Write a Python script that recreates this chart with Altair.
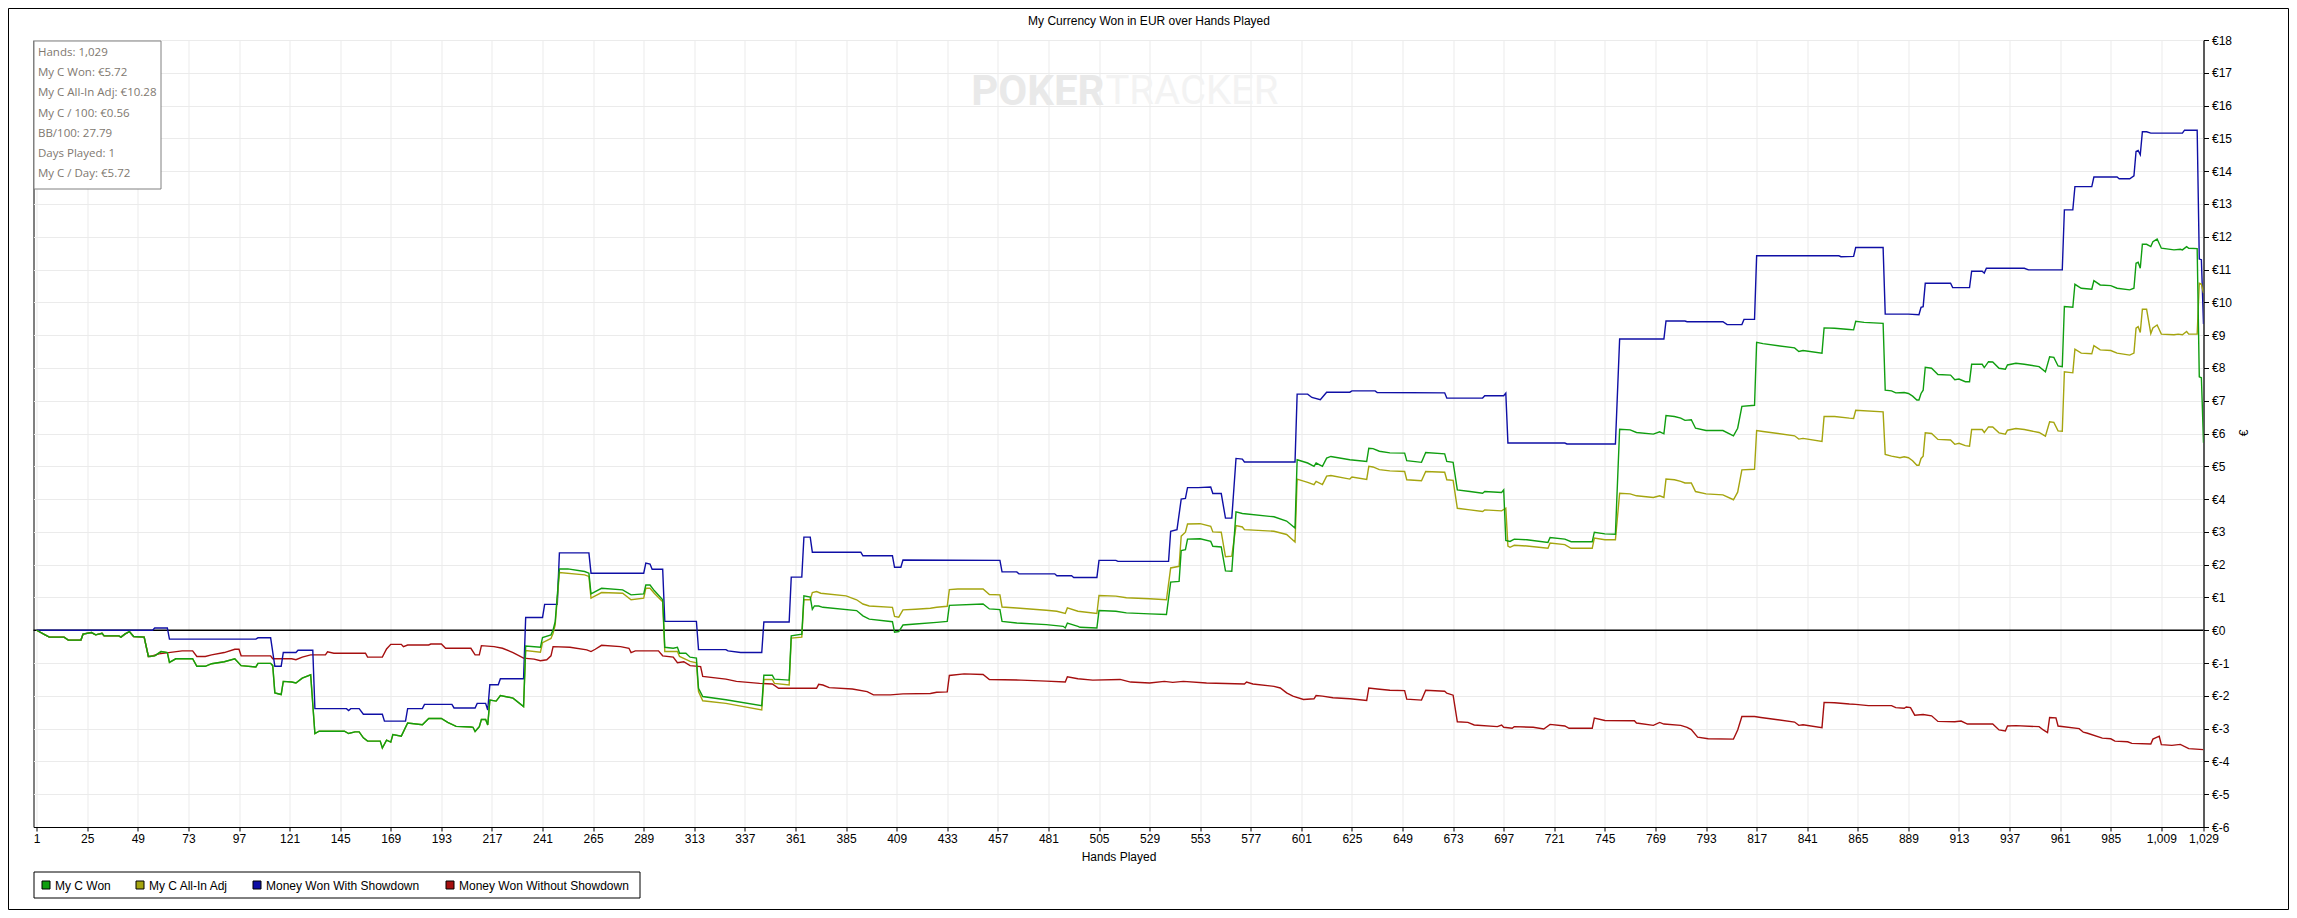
import altair as alt
import pandas as pd

SERIES = ["My C Won", "My C All-In Adj", "Money Won With Showdown", "Money Won Without Showdown"]
COLORS = ["#109e10", "#a5a50f", "#0f0fa5", "#a50f0f"]

TITLE = "My Currency Won in EUR over Hands Played"
X_TITLE = "Hands Played"
Y_TITLE = "€"
STATS = ["Hands: 1,029", "My C Won: €5.72", "My C All-In Adj: €10.28", "My C / 100: €0.56",
         "BB/100: 27.79", "Days Played: 1", "My C / Day: €5.72"]
X_TICKS = [1, 25, 49, 73, 97, 121, 145, 169, 193, 217, 241, 265, 289, 313, 337, 361, 385, 409,
           433, 457, 481, 505, 529, 553, 577, 601, 625, 649, 673, 697, 721, 745, 769, 793, 817,
           841, 865, 889, 913, 937, 961, 985, 1009, 1029]
Y_TICKS = list(range(-6, 19))

# hands 1-52: all three of My C Won / All-In Adj / Without Showdown coincide
common_a = [(1, 0), (5, -0.14), (7, -0.21), (14, -0.21), (16, -0.30), (22, -0.30), (23, -0.12),
            (27, -0.07), (29, -0.14), (32, -0.09), (33, -0.17), (40, -0.17), (41, -0.21),
            (43, -0.11), (45, -0.04), (47, -0.19), (52, -0.21)]

# hands 54-232: My C Won and All-In Adj coincide
common_b = [(54, -0.80), (57, -0.78), (60, -0.65), (63, -0.68), (64, -0.98), (67, -0.87),
            (75, -0.87), (77, -1.10), (81, -1.10), (84, -1.02), (90, -0.96), (95, -0.87),
            (98, -1.08), (105, -1.12), (106, -1.01), (112, -1.01), (113, -1.08), (114, -1.91),
            (117, -1.96), (118, -1.56), (122, -1.58), (124, -1.61), (127, -1.46), (131, -1.36),
            (133, -3.15), (135, -3.08), (147, -3.08), (149, -3.15), (152, -3.10), (154, -3.10),
            (156, -3.28), (158, -3.38), (164, -3.38), (165, -3.59), (167, -3.35), (169, -3.41),
            (170, -3.18), (174, -3.23), (177, -2.83), (184, -2.88), (187, -2.69), (193, -2.69),
            (196, -2.81), (200, -2.93), (207, -2.95), (208, -2.96), (209, -3.09), (211, -2.94),
            (212, -2.72), (214, -2.72), (215, -2.89), (216, -2.13), (219, -2.16), (221, -1.99),
            (227, -2.07), (232, -2.33)]

green_rest = [(233, -0.48), (240, -0.52), (241, -0.22), (245, -0.14), (246, 0.01), (247, 0.26),
              (249, 1.87), (253, 1.87), (261, 1.79), (263, 1.74), (264, 1.11), (266, 1.18),
              (269, 1.28), (279, 1.23), (283, 1.08), (289, 1.11), (290, 1.38), (292, 1.38),
              (294, 1.21), (298, 0.93), (299, -0.52), (303, -0.55), (305, -0.52), (306, -0.70),
              (309, -0.70), (311, -0.82), (314, -0.85), (315, -1.77), (317, -2.02), (328, -2.12),
              (345, -2.30), (346, -1.37), (350, -1.37), (351, -1.49), (358, -1.52), (359, -0.17),
              (364, -0.12), (365, 1.05), (368, 1.01), (369, 0.64), (370, 0.74), (372, 0.74),
              (374, 0.70), (390, 0.60), (393, 0.44), (396, 0.34), (407, 0.26), (408, -0.06),
              (410, -0.04), (412, 0.16), (418, 0.19), (428, 0.24), (433, 0.27), (434, 0.76),
              (450, 0.80), (453, 0.65), (458, 0.63), (459, 0.27), (466, 0.22), (480, 0.17),
              (488, 0.12), (489, 0.07), (490, 0.22), (495, 0.12), (496, 0.09), (504, 0.07),
              (505, 0.60), (513, 0.58), (518, 0.53), (529, 0.50), (537, 0.48), (539, 1.47),
              (543, 1.49), (544, 2.43), (546, 2.46), (547, 2.78), (553, 2.79), (558, 2.71),
              (559, 2.56), (563, 2.54), (565, 1.81), (568, 1.80), (570, 3.61), (573, 3.56),
              (588, 3.46), (594, 3.33), (598, 3.12), (599, 5.20), (604, 5.10), (607, 5.00),
              (608, 5.10), (611, 5.00), (613, 5.25), (615, 5.30), (624, 5.20), (632, 5.15),
              (633, 5.55), (635, 5.54), (638, 5.46), (643, 5.41), (650, 5.40), (651, 5.17),
              (658, 5.12), (660, 5.42), (669, 5.38), (670, 5.15), (673, 5.12), (675, 4.28),
              (681, 4.23), (687, 4.18), (688, 4.23), (696, 4.20), (697, 4.28), (698, 2.74),
              (700, 2.71), (702, 2.78), (708, 2.76), (718, 2.68), (719, 2.83), (726, 2.78),
              (729, 2.70), (739, 2.70), (740, 2.99), (745, 2.94), (750, 2.93), (752, 6.13),
              (757, 6.11), (760, 6.03), (768, 5.98), (771, 6.05), (773, 5.99), (774, 6.55),
              (778, 6.52), (781, 6.47), (783, 6.40), (786, 6.42), (788, 6.16), (793, 6.09),
              (801, 6.09), (806, 5.93), (808, 6.16), (810, 6.83), (816, 6.86), (817, 8.78),
              (820, 8.74), (835, 8.61), (837, 8.50), (839, 8.53), (848, 8.45), (849, 9.22),
              (854, 9.21), (861, 9.17), (863, 9.16), (864, 9.42), (868, 9.39), (877, 9.36),
              (878, 7.32), (881, 7.30), (883, 7.24), (887, 7.25), (889, 7.22), (891, 7.14),
              (893, 7.02), (894, 7.02), (895, 7.22), (896, 7.32), (897, 8.02), (900, 7.99),
              (903, 7.80), (909, 7.78), (911, 7.64), (913, 7.66), (916, 7.58), (918, 7.58),
              (919, 8.11), (924, 8.11), (925, 8.01), (927, 8.19), (929, 8.18), (932, 7.99),
              (935, 7.96), (936, 8.09), (940, 8.14), (944, 8.11), (951, 8.04), (954, 7.88),
              (956, 8.34), (958, 8.32), (960, 8.06), (962, 8.04), (963, 9.87), (967, 9.85),
              (968, 10.55), (971, 10.43), (976, 10.40), (977, 10.66), (980, 10.53), (985, 10.51),
              (988, 10.43), (994, 10.38), (996, 10.43), (997, 11.19), (998, 11.22), (999, 11.04),
              (1000, 11.77), (1002, 11.77), (1004, 11.70), (1005, 11.85), (1007, 11.93),
              (1009, 11.65), (1015, 11.60), (1018, 11.62), (1019, 11.60), (1021, 11.70),
              (1022, 11.65), (1026, 11.64), (1027, 7.73), (1028, 7.70), (1029, 5.72)]

yellow_rest = [(233, -0.62), (240, -0.67), (241, -0.38), (245, -0.25), (246, -0.09), (247, 0.16),
               (249, 1.76), (261, 1.69), (263, 1.64), (264, 0.98), (266, 1.05), (269, 1.15),
               (279, 1.13), (283, 0.93), (289, 0.98), (290, 1.28), (292, 1.28), (294, 1.13),
               (298, 0.87), (299, -0.65), (305, -0.65), (306, -0.80), (311, -0.95), (314, -0.99),
               (315, -1.87), (317, -2.15), (328, -2.23), (345, -2.43), (346, -1.50), (350, -1.50),
               (351, -1.62), (358, -1.67), (359, -0.24), (364, -0.21), (365, 0.93), (368, 0.93),
               (369, 1.15), (371, 1.18), (373, 1.13), (385, 1.05), (390, 0.93), (393, 0.80),
               (396, 0.74), (407, 0.70), (408, 0.42), (410, 0.40), (412, 0.62), (418, 0.64),
               (425, 0.67), (428, 0.70), (433, 0.73), (434, 1.24), (438, 1.26), (450, 1.26),
               (453, 1.09), (458, 1.08), (459, 0.71), (466, 0.68), (480, 0.61), (485, 0.58),
               (489, 0.51), (490, 0.68), (495, 0.58), (504, 0.51), (505, 1.06), (513, 1.04),
               (518, 0.99), (529, 0.96), (537, 0.93), (539, 1.90), (543, 1.95), (544, 2.87),
               (546, 2.99), (547, 3.24), (553, 3.25), (558, 3.17), (559, 3.00), (563, 2.99),
               (565, 2.24), (568, 2.26), (570, 3.19), (573, 3.15), (574, 3.07), (588, 3.02),
               (594, 2.92), (598, 2.69), (599, 4.61), (604, 4.51), (607, 4.44), (608, 4.54),
               (611, 4.44), (613, 4.70), (615, 4.72), (624, 4.61), (625, 4.67), (632, 4.60),
               (633, 5.00), (635, 4.98), (638, 4.90), (643, 4.86), (650, 4.84), (651, 4.59),
               (658, 4.56), (660, 4.84), (669, 4.82), (670, 4.59), (673, 4.57), (675, 3.72),
               (681, 3.67), (687, 3.62), (688, 3.67), (696, 3.64), (698, 3.72), (699, 2.57),
               (700, 2.53), (702, 2.59), (708, 2.57), (718, 2.50), (719, 2.66), (726, 2.61),
               (729, 2.50), (739, 2.50), (740, 2.81), (745, 2.76), (750, 2.76), (752, 4.18),
               (757, 4.16), (760, 4.10), (768, 4.05), (771, 4.10), (773, 4.05), (774, 4.61),
               (778, 4.59), (781, 4.54), (783, 4.49), (786, 4.49), (788, 4.23), (793, 4.16),
               (801, 4.13), (806, 3.98), (808, 4.21), (810, 4.89), (816, 4.91), (817, 6.09),
               (820, 6.06), (835, 5.93), (837, 5.83), (839, 5.85), (848, 5.76), (849, 6.52),
               (854, 6.52), (861, 6.47), (863, 6.46), (864, 6.71), (877, 6.66), (878, 5.36),
               (881, 5.31), (885, 5.26), (887, 5.29), (889, 5.26), (891, 5.17), (893, 5.03),
               (894, 5.03), (895, 5.24), (896, 5.31), (897, 6.02), (900, 6.00), (903, 5.82),
               (909, 5.80), (911, 5.67), (913, 5.70), (916, 5.63), (918, 5.61), (919, 6.12),
               (924, 6.12), (925, 6.03), (927, 6.20), (929, 6.20), (932, 6.02), (935, 5.98),
               (936, 6.10), (940, 6.15), (944, 6.12), (951, 6.03), (954, 5.92), (956, 6.36),
               (958, 6.34), (960, 6.08), (962, 6.07), (963, 7.88), (967, 7.85), (968, 8.57),
               (971, 8.45), (976, 8.43), (977, 8.68), (980, 8.55), (985, 8.53), (988, 8.45),
               (994, 8.39), (996, 8.45), (997, 9.21), (998, 9.26), (999, 9.08), (1000, 9.79),
               (1002, 9.79), (1004, 9.05), (1005, 9.22), (1007, 9.31), (1009, 9.03), (1015, 9.01),
               (1017, 9.03), (1019, 9.01), (1021, 9.11), (1022, 9.03), (1026, 9.03),
               (1027, 10.58), (1028, 10.56), (1029, 10.28)]

blue_pts = [(1, 0), (56, 0), (57, 0.07), (63, 0.07), (64, -0.27), (105, -0.27), (106, -0.23),
            (112, -0.23), (114, -1.10), (117, -1.10), (118, -0.68), (124, -0.68), (125, -0.61),
            (132, -0.61), (133, -2.39), (148, -2.39), (149, -2.45), (150, -2.39), (154, -2.39),
            (156, -2.56), (165, -2.56), (166, -2.77), (176, -2.77), (177, -2.39), (184, -2.39),
            (185, -2.26), (198, -2.26), (199, -2.37), (209, -2.37), (210, -2.23), (214, -2.23),
            (215, -2.43), (216, -1.66), (220, -1.66), (221, -1.48), (232, -1.48), (233, 0.39),
            (241, 0.39), (242, 0.79), (248, 0.79), (249, 2.36), (263, 2.36), (264, 1.74),
            (289, 1.74), (290, 2.05), (292, 2.02), (293, 1.86), (298, 1.86), (299, 0.27),
            (314, 0.27), (315, -0.59), (328, -0.59), (329, -0.63), (335, -0.68), (345, -0.68),
            (346, 0.25), (358, 0.25), (359, 1.62), (364, 1.62), (365, 2.84), (368, 2.84),
            (369, 2.38), (392, 2.38), (393, 2.27), (407, 2.27), (408, 1.92), (411, 1.92),
            (412, 2.14), (458, 2.13), (459, 1.78), (466, 1.78), (467, 1.72), (484, 1.72),
            (485, 1.66), (492, 1.66), (493, 1.61), (504, 1.61), (505, 2.13), (513, 2.13),
            (514, 2.10), (538, 2.10), (539, 3.02), (542, 3.07), (544, 4.00), (546, 4.02),
            (547, 4.35), (552, 4.35), (558, 4.37), (559, 4.17), (563, 4.17), (565, 3.42),
            (568, 3.42), (570, 5.24), (573, 5.22), (574, 5.13), (598, 5.13), (599, 7.20),
            (604, 7.20), (606, 7.10), (610, 7.03), (613, 7.26), (624, 7.26), (625, 7.30),
            (636, 7.30), (637, 7.25), (669, 7.24), (670, 7.08), (687, 7.08), (688, 7.15),
            (697, 7.15), (698, 7.23), (699, 5.71), (726, 5.71), (727, 5.68), (750, 5.68),
            (752, 8.88), (773, 8.88), (774, 9.43), (783, 9.43), (784, 9.41), (801, 9.41),
            (803, 9.32), (810, 9.32), (811, 9.48), (816, 9.48), (817, 11.42), (856, 11.42),
            (857, 11.39), (863, 11.40), (864, 11.67), (877, 11.67), (878, 9.64), (889, 9.64),
            (894, 9.62), (895, 9.85), (896, 9.87), (897, 10.58), (909, 10.58), (910, 10.45),
            (918, 10.45), (919, 10.95), (924, 10.95), (925, 10.89), (926, 11.04), (944, 11.04),
            (946, 10.99), (962, 10.99), (963, 12.82), (967, 12.82), (968, 13.53), (976, 13.53),
            (977, 13.82), (988, 13.82), (989, 13.77), (994, 13.77), (996, 13.86), (997, 14.60),
            (998, 14.63), (999, 14.50), (1000, 15.20), (1002, 15.20), (1004, 15.16),
            (1019, 15.16), (1020, 15.25), (1026, 15.25), (1027, 11.32), (1028, 11.30),
            (1029, 9.34)]

red_rest = [(54, -0.80), (55, -0.80), (59, -0.72), (70, -0.63), (75, -0.63), (77, -0.80),
            (81, -0.80), (84, -0.75), (90, -0.68), (95, -0.58), (97, -0.58), (98, -0.78),
            (112, -0.78), (113, -0.87), (122, -0.87), (124, -0.90), (127, -0.82), (131, -0.75),
            (138, -0.75), (139, -0.66), (142, -0.70), (157, -0.70), (158, -0.82), (165, -0.82),
            (167, -0.57), (169, -0.43), (174, -0.43), (175, -0.50), (177, -0.45), (187, -0.45),
            (188, -0.42), (193, -0.42), (195, -0.55), (207, -0.55), (209, -0.75), (211, -0.75),
            (212, -0.47), (218, -0.50), (222, -0.55), (227, -0.68), (232, -0.85), (237, -0.88),
            (240, -0.93), (243, -0.90), (245, -0.78), (246, -0.50), (254, -0.52), (262, -0.60),
            (264, -0.65), (266, -0.58), (269, -0.46), (278, -0.50), (282, -0.55), (283, -0.68),
            (285, -0.63), (296, -0.63), (298, -0.78), (303, -0.82), (305, -0.99), (308, -0.96),
            (311, -1.08), (316, -1.11), (317, -1.41), (328, -1.49), (333, -1.56), (344, -1.62),
            (350, -1.64), (353, -1.77), (371, -1.77), (372, -1.65), (374, -1.67), (377, -1.75),
            (388, -1.79), (395, -1.87), (398, -1.97), (406, -1.97), (412, -1.94), (425, -1.93),
            (428, -1.89), (433, -1.88), (434, -1.38), (441, -1.33), (450, -1.35), (453, -1.50),
            (468, -1.52), (480, -1.55), (489, -1.58), (490, -1.42), (495, -1.48), (502, -1.52),
            (515, -1.50), (520, -1.58), (529, -1.61), (536, -1.56), (540, -1.59), (545, -1.56),
            (556, -1.61), (574, -1.64), (575, -1.58), (578, -1.64), (588, -1.71), (591, -1.76),
            (594, -1.91), (597, -2.01), (602, -2.11), (607, -2.09), (608, -1.99), (611, -2.01),
            (616, -2.06), (624, -2.09), (632, -2.14), (633, -1.76), (637, -1.79), (643, -1.83),
            (650, -1.84), (651, -2.10), (658, -2.13), (660, -1.83), (669, -1.86), (670, -1.92),
            (673, -1.98), (675, -2.79), (680, -2.81), (683, -2.89), (694, -2.94), (696, -2.89),
            (697, -2.96), (701, -2.99), (702, -2.94), (711, -2.96), (716, -3.01), (719, -2.87),
            (726, -2.92), (728, -2.99), (739, -2.99), (740, -2.68), (745, -2.75), (759, -2.76),
            (760, -2.83), (768, -2.90), (771, -2.81), (773, -2.86), (781, -2.90), (784, -2.96),
            (786, -3.03), (789, -3.26), (794, -3.31), (806, -3.32), (808, -3.04), (810, -2.63),
            (816, -2.63), (819, -2.66), (827, -2.73), (835, -2.80), (837, -2.90), (839, -2.88),
            (848, -2.97), (849, -2.20), (854, -2.21), (861, -2.25), (864, -2.26), (870, -2.30),
            (881, -2.30), (883, -2.36), (887, -2.38), (888, -2.34), (890, -2.36), (892, -2.59),
            (896, -2.57), (900, -2.61), (903, -2.78), (911, -2.79), (914, -2.77), (917, -2.86),
            (929, -2.86), (932, -3.04), (935, -3.07), (936, -2.92), (940, -2.91), (951, -2.94),
            (953, -3.04), (955, -3.12), (956, -2.66), (959, -2.67), (960, -2.92), (970, -3.00),
            (972, -3.11), (974, -3.14), (981, -3.29), (985, -3.31), (987, -3.38), (993, -3.40),
            (995, -3.45), (1004, -3.47), (1005, -3.32), (1008, -3.23), (1009, -3.49),
            (1014, -3.51), (1018, -3.48), (1022, -3.61), (1029, -3.64)]

green_pts = common_a + common_b + green_rest
yellow_pts = common_a + common_b + yellow_rest
red_pts = common_a + red_rest

rows = []
for name, pts in [(SERIES[3], red_pts), (SERIES[2], blue_pts), (SERIES[1], yellow_pts), (SERIES[0], green_pts)]:
    for h, v in pts:
        rows.append({"series": name, "hand": h, "value": v})
df = pd.DataFrame(rows)

W, H = 2170, 787
FONT = "Liberation Sans"
one = pd.DataFrame({"k": [0]})

x_scale = alt.Scale(domain=[-0.5, 1029], nice=False, zero=False)
y_scale = alt.Scale(domain=[-6, 18], nice=False, zero=False)

x_axis = alt.Axis(values=X_TICKS, format=",d", title=X_TITLE, grid=True, gridColor="#ebebeb",
                  tickColor="black", tickSize=4, domainColor="black", labelColor="black",
                  labelFont=FONT, labelFontSize=12, labelPadding=2, labelFlush=False,
                  labelOverlap=False, titleFont=FONT, titleFontSize=12,
                  titleFontWeight="normal", titleColor="black", titlePadding=7)
y_axis = alt.Axis(orient="right", values=Y_TICKS, labelExpr="'€' + datum.value", title=None,
                  grid=True, gridColor="#ebebeb", tickColor="black", tickSize=5,
                  domainColor="black", labelColor="black", labelFont=FONT, labelFontSize=12,
                  labelPadding=3, labelFlush=False, labelOverlap=False, tickCount=25)

lines = alt.Chart(df).mark_line(strokeWidth=1.4, clip=True).encode(
    x=alt.X("hand:Q", scale=x_scale, axis=x_axis),
    y=alt.Y("value:Q", scale=y_scale, axis=y_axis),
    color=alt.Color("series:N", scale=alt.Scale(domain=SERIES, range=COLORS), legend=None),
)

zero = alt.Chart(one).mark_rule(color="black", strokeWidth=1.3).encode(
    y=alt.datum(0, scale=y_scale, axis=y_axis))

wm1 = alt.Chart(one).mark_text(text="POKER", font="Roboto", fontSize=42, fontWeight="bold",
                               color="#e9e9e9", align="right", baseline="alphabetic").encode(
    x=alt.value(1071), y=alt.value(65))
wm2 = alt.Chart(one).mark_text(text="TRACKER", font="Roboto", fontSize=40, fontWeight="normal",
                               color="#f3f3f3", align="left", baseline="alphabetic").encode(
    x=alt.value(1072), y=alt.value(64))

stats_box = alt.Chart(one).mark_rect(fill="white", stroke="#808080", strokeWidth=1).encode(
    x=alt.value(0.5), x2=alt.value(127.5), y=alt.value(1), y2=alt.value(149))
stats_text = alt.Chart(one).mark_text(text="\n".join(STATS), lineBreak="\n", lineHeight=20.2,
                                      font="Open Sans", fontSize=11.5, color="#80786f",
                                      align="left", baseline="middle").encode(
    x=alt.value(4.5), y=alt.value(13))

# legend drawn as marks: box, colour squares with black outline, labels
LEG_SQ_X = [8.5, 102.5, 219.5, 412.5]
LEG_TX_X = [21.5, 115.5, 232.5, 425.5]
legend_layers = [alt.Chart(one).mark_rect(fill="white", stroke="black", strokeWidth=1).encode(
    x=alt.value(0.5), x2=alt.value(606.5), y=alt.value(832), y2=alt.value(858))]
for i, name in enumerate(SERIES):
    legend_layers.append(alt.Chart(one).mark_rect(fill=COLORS[i], stroke="black", strokeWidth=1).encode(
        x=alt.value(LEG_SQ_X[i]), x2=alt.value(LEG_SQ_X[i] + 8), y=alt.value(841), y2=alt.value(849)))
    legend_layers.append(alt.Chart(one).mark_text(text=name, font=FONT, fontSize=12, color="black",
                                                  align="left", baseline="middle").encode(
        x=alt.value(LEG_TX_X[i]), y=alt.value(845.5)))

title = alt.Chart(one).mark_text(text=TITLE, font=FONT, fontSize=12, color="black",
                                 align="center", baseline="middle").encode(
    x=alt.value(1115.5), y=alt.value(-19))
ytitle = alt.Chart(one).mark_text(text=Y_TITLE, font=FONT, fontSize=12, color="black", angle=270,
                                  align="center", baseline="middle").encode(
    x=alt.value(2210.5), y=alt.value(393))
border = alt.Chart(one).mark_rect(fillOpacity=0, stroke="black", strokeWidth=1).encode(
    x=alt.value(-25), x2=alt.value(2255), y=alt.value(-31.5), y2=alt.value(869.5))

chart = alt.layer(wm1, wm2, zero, lines, stats_box, stats_text, title, ytitle,
                  *legend_layers, border).properties(
    width=W, height=H,
    autosize=alt.AutoSizeParams(type="none"),
    padding={"left": 25.5, "top": 32, "right": 85.5, "bottom": 83},
    background="white",
).configure_view(stroke="black", strokeWidth=1)

chart.save("out.html", embed_options={"renderer": "svg", "actions": False})
